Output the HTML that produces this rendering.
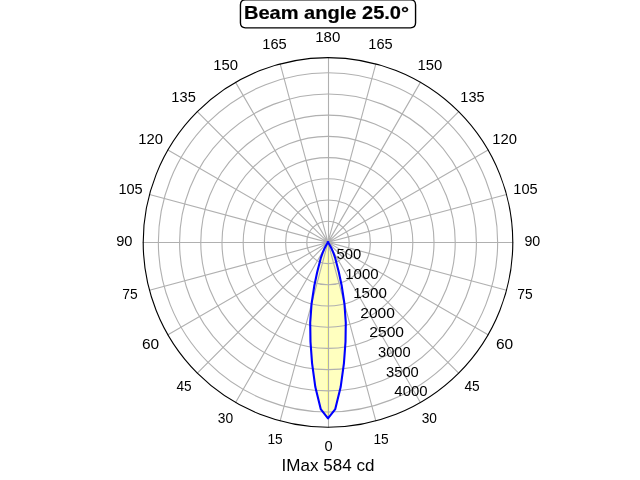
<!DOCTYPE html>
<html><head><meta charset="utf-8"><title>Beam angle 25.0°</title><style>
html,body{margin:0;padding:0;background:#fff;overflow:hidden;width:640px;height:480px}
svg{display:block}
text{font-family:"Liberation Sans",sans-serif;fill:#000}
.t text{stroke:#000;stroke-width:0.0px}
.aa{filter:url(#nf)}
</style></head><body>
<svg width="640" height="480" viewBox="0 0 640 480">
<rect width="640" height="480" fill="#fff"/>
<defs><filter id="nf" x="0" y="0" width="640" height="480" filterUnits="userSpaceOnUse"><feOffset dx="0" dy="0"/></filter></defs>
<defs><clipPath id="beam"><path d="M328.00 242.05L327.98 242.05L327.97 242.05L327.95 242.05L327.94 242.05L327.92 242.06L327.91 242.06L327.89 242.06L327.88 242.07L327.87 242.07L327.85 242.08L327.84 242.09L327.82 242.10L327.81 242.10L327.80 242.11L327.79 242.12L327.77 242.13L327.76 242.14L327.75 242.15L327.74 242.16L327.73 242.17L327.72 242.19L327.71 242.20L327.70 242.21L327.70 242.22L327.69 242.24L327.68 242.25L327.67 242.27L327.67 242.28L327.66 242.29L327.66 242.31L327.66 242.32L327.65 242.34L327.65 242.35L327.65 242.37L327.65 242.38L327.65 242.40L327.65 242.42L327.65 242.43L327.65 242.45L327.65 242.46L327.66 242.48L327.66 242.49L327.66 242.51L327.67 242.52L327.67 242.53L327.68 242.55L327.69 242.56L327.70 242.58L327.70 242.59L327.71 242.60L327.72 242.61L327.73 242.63L327.74 242.64L327.75 242.65L327.76 242.66L327.77 242.67L327.79 242.68L327.19 243.55L325.92 245.67L324.48 248.50L322.72 252.55L320.93 257.55L319.58 262.73L317.16 272.17L314.24 286.04L311.56 303.77L310.21 322.64L310.49 341.72L312.08 363.32L315.34 387.05L320.72 409.09L328.00 418.40L335.28 409.09L340.66 387.05L343.92 363.32L345.51 341.72L345.79 322.64L344.44 303.77L341.76 286.04L338.84 272.17L336.42 262.73L335.07 257.55L333.28 252.55L331.52 248.50L330.08 245.67L328.81 243.55L328.21 242.68L328.23 242.67L328.24 242.66L328.25 242.65L328.26 242.64L328.27 242.63L328.28 242.61L328.29 242.60L328.30 242.59L328.30 242.58L328.31 242.56L328.32 242.55L328.33 242.53L328.33 242.52L328.34 242.51L328.34 242.49L328.34 242.48L328.35 242.46L328.35 242.45L328.35 242.43L328.35 242.42L328.35 242.40L328.35 242.38L328.35 242.37L328.35 242.35L328.35 242.34L328.34 242.32L328.34 242.31L328.34 242.29L328.33 242.28L328.33 242.27L328.32 242.25L328.31 242.24L328.30 242.22L328.30 242.21L328.29 242.20L328.28 242.19L328.27 242.17L328.26 242.16L328.25 242.15L328.24 242.14L328.23 242.13L328.21 242.12L328.20 242.11L328.19 242.10L328.18 242.10L328.16 242.09L328.15 242.08L328.13 242.07L328.12 242.07L328.11 242.06L328.09 242.06L328.08 242.06L328.06 242.05L328.05 242.05L328.03 242.05L328.02 242.05L328.00 242.05Z"/></clipPath></defs>
<path d="M328.00 242.05L327.98 242.05L327.97 242.05L327.95 242.05L327.94 242.05L327.92 242.06L327.91 242.06L327.89 242.06L327.88 242.07L327.87 242.07L327.85 242.08L327.84 242.09L327.82 242.10L327.81 242.10L327.80 242.11L327.79 242.12L327.77 242.13L327.76 242.14L327.75 242.15L327.74 242.16L327.73 242.17L327.72 242.19L327.71 242.20L327.70 242.21L327.70 242.22L327.69 242.24L327.68 242.25L327.67 242.27L327.67 242.28L327.66 242.29L327.66 242.31L327.66 242.32L327.65 242.34L327.65 242.35L327.65 242.37L327.65 242.38L327.65 242.40L327.65 242.42L327.65 242.43L327.65 242.45L327.65 242.46L327.66 242.48L327.66 242.49L327.66 242.51L327.67 242.52L327.67 242.53L327.68 242.55L327.69 242.56L327.70 242.58L327.70 242.59L327.71 242.60L327.72 242.61L327.73 242.63L327.74 242.64L327.75 242.65L327.76 242.66L327.77 242.67L327.79 242.68L327.19 243.55L325.92 245.67L324.48 248.50L322.72 252.55L320.93 257.55L319.58 262.73L317.16 272.17L314.24 286.04L311.56 303.77L310.21 322.64L310.49 341.72L312.08 363.32L315.34 387.05L320.72 409.09L328.00 418.40L335.28 409.09L340.66 387.05L343.92 363.32L345.51 341.72L345.79 322.64L344.44 303.77L341.76 286.04L338.84 272.17L336.42 262.73L335.07 257.55L333.28 252.55L331.52 248.50L330.08 245.67L328.81 243.55L328.21 242.68L328.23 242.67L328.24 242.66L328.25 242.65L328.26 242.64L328.27 242.63L328.28 242.61L328.29 242.60L328.30 242.59L328.30 242.58L328.31 242.56L328.32 242.55L328.33 242.53L328.33 242.52L328.34 242.51L328.34 242.49L328.34 242.48L328.35 242.46L328.35 242.45L328.35 242.43L328.35 242.42L328.35 242.40L328.35 242.38L328.35 242.37L328.35 242.35L328.35 242.34L328.34 242.32L328.34 242.31L328.34 242.29L328.33 242.28L328.33 242.27L328.32 242.25L328.31 242.24L328.30 242.22L328.30 242.21L328.29 242.20L328.28 242.19L328.27 242.17L328.26 242.16L328.25 242.15L328.24 242.14L328.23 242.13L328.21 242.12L328.20 242.11L328.19 242.10L328.18 242.10L328.16 242.09L328.15 242.08L328.13 242.07L328.12 242.07L328.11 242.06L328.09 242.06L328.08 242.06L328.06 242.05L328.05 242.05L328.03 242.05L328.02 242.05L328.00 242.05Z" fill="#ffffbf" stroke="none"/>
<rect x="327" y="240" width="1" height="180" fill="#ffff8c" clip-path="url(#beam)"/>
<path d="M328.50 242.40L328.50 427.20M328.00 242.40L375.83 420.90M328.00 242.40L420.40 402.44M328.00 242.40L458.67 373.07M328.00 242.40L488.04 334.80M328.00 242.40L506.50 290.23M328.00 242.50L512.80 242.50M328.00 242.40L506.50 194.57M328.00 242.40L488.04 150.00M328.00 242.40L458.67 111.73M328.00 242.40L420.40 82.36M328.00 242.40L375.83 63.90M328.50 242.40L328.50 57.60M328.00 242.40L280.17 63.90M328.00 242.40L235.60 82.36M328.00 242.40L197.33 111.73M328.00 242.40L167.96 150.00M328.00 242.40L149.50 194.57M328.00 242.50L143.20 242.50M328.00 242.40L149.50 290.23M328.00 242.40L167.96 334.80M328.00 242.40L197.33 373.07M328.00 242.40L235.60 402.44M328.00 242.40L280.17 420.90" stroke="#b0b0b0" stroke-width="1.111" fill="none" stroke-linecap="square"/>
<circle cx="328.0" cy="242.4" r="21.205" stroke="#b0b0b0" stroke-width="1.111" fill="none"/>
<circle cx="328.0" cy="242.4" r="42.410" stroke="#b0b0b0" stroke-width="1.111" fill="none"/>
<circle cx="328.0" cy="242.4" r="63.614" stroke="#b0b0b0" stroke-width="1.111" fill="none"/>
<circle cx="328.0" cy="242.4" r="84.819" stroke="#b0b0b0" stroke-width="1.111" fill="none"/>
<circle cx="328.0" cy="242.4" r="106.024" stroke="#b0b0b0" stroke-width="1.111" fill="none"/>
<circle cx="328.0" cy="242.4" r="127.229" stroke="#b0b0b0" stroke-width="1.111" fill="none"/>
<circle cx="328.0" cy="242.4" r="148.434" stroke="#b0b0b0" stroke-width="1.111" fill="none"/>
<circle cx="328.0" cy="242.4" r="169.639" stroke="#b0b0b0" stroke-width="1.111" fill="none"/>
<g class="t aa">
<text x="328.49" y="450.64" font-size="14.72" text-anchor="middle" textLength="8.13" lengthAdjust="spacingAndGlyphs">0</text>
<text x="381.11" y="443.68" font-size="14.72" text-anchor="middle" textLength="15.31" lengthAdjust="spacingAndGlyphs">15</text>
<text x="429.32" y="423.28" font-size="14.72" text-anchor="middle" textLength="15.28" lengthAdjust="spacingAndGlyphs">30</text>
<text x="472.07" y="390.82" font-size="14.72" text-anchor="middle" textLength="15.27" lengthAdjust="spacingAndGlyphs">45</text>
<text x="504.56" y="348.52" font-size="14.72" text-anchor="middle" textLength="17.27" lengthAdjust="spacingAndGlyphs">60</text>
<text x="525.05" y="299.26" font-size="14.72" text-anchor="middle" textLength="15.36" lengthAdjust="spacingAndGlyphs">75</text>
<text x="532.35" y="246.40" font-size="14.72" text-anchor="middle" textLength="15.85" lengthAdjust="spacingAndGlyphs">90</text>
<text x="525.52" y="193.54" font-size="14.72" text-anchor="middle" textLength="24.34" lengthAdjust="spacingAndGlyphs">105</text>
<text x="504.73" y="144.28" font-size="14.72" text-anchor="middle" textLength="24.74" lengthAdjust="spacingAndGlyphs">120</text>
<text x="472.49" y="101.98" font-size="14.72" text-anchor="middle" textLength="24.26" lengthAdjust="spacingAndGlyphs">135</text>
<text x="429.80" y="69.52" font-size="14.72" text-anchor="middle" textLength="24.79" lengthAdjust="spacingAndGlyphs">150</text>
<text x="380.49" y="49.12" font-size="14.72" text-anchor="middle" textLength="24.40" lengthAdjust="spacingAndGlyphs">165</text>
<text x="327.72" y="42.16" font-size="14.72" text-anchor="middle" textLength="25.14" lengthAdjust="spacingAndGlyphs">180</text>
<text x="274.55" y="49.12" font-size="14.72" text-anchor="middle" textLength="24.47" lengthAdjust="spacingAndGlyphs">165</text>
<text x="225.74" y="69.52" font-size="14.72" text-anchor="middle" textLength="24.84" lengthAdjust="spacingAndGlyphs">150</text>
<text x="183.57" y="101.98" font-size="14.72" text-anchor="middle" textLength="24.43" lengthAdjust="spacingAndGlyphs">135</text>
<text x="150.73" y="144.28" font-size="14.72" text-anchor="middle" textLength="24.80" lengthAdjust="spacingAndGlyphs">120</text>
<text x="130.58" y="193.54" font-size="14.72" text-anchor="middle" textLength="24.30" lengthAdjust="spacingAndGlyphs">105</text>
<text x="124.37" y="246.40" font-size="14.72" text-anchor="middle" textLength="16.29" lengthAdjust="spacingAndGlyphs">90</text>
<text x="130.02" y="299.26" font-size="14.72" text-anchor="middle" textLength="15.38" lengthAdjust="spacingAndGlyphs">75</text>
<text x="150.52" y="348.52" font-size="14.72" text-anchor="middle" textLength="17.23" lengthAdjust="spacingAndGlyphs">60</text>
<text x="184.09" y="390.82" font-size="14.72" text-anchor="middle" textLength="15.15" lengthAdjust="spacingAndGlyphs">45</text>
<text x="225.38" y="423.28" font-size="14.72" text-anchor="middle" textLength="15.35" lengthAdjust="spacingAndGlyphs">30</text>
<text x="275.13" y="443.68" font-size="14.72" text-anchor="middle" textLength="15.24" lengthAdjust="spacingAndGlyphs">15</text>
<text x="336.46" y="258.99" font-size="14.72" text-anchor="start" textLength="24.71" lengthAdjust="spacingAndGlyphs">500</text>
<text x="345.23" y="278.58" font-size="14.72" text-anchor="start" textLength="33.34" lengthAdjust="spacingAndGlyphs">1000</text>
<text x="353.22" y="298.17" font-size="14.72" text-anchor="start" textLength="33.63" lengthAdjust="spacingAndGlyphs">1500</text>
<text x="360.23" y="317.76" font-size="14.72" text-anchor="start" textLength="34.65" lengthAdjust="spacingAndGlyphs">2000</text>
<text x="369.34" y="337.35" font-size="14.72" text-anchor="start" textLength="34.67" lengthAdjust="spacingAndGlyphs">2500</text>
<text x="377.99" y="356.94" font-size="14.72" text-anchor="start" textLength="32.67" lengthAdjust="spacingAndGlyphs">3000</text>
<text x="386.01" y="376.53" font-size="14.72" text-anchor="start" textLength="32.78" lengthAdjust="spacingAndGlyphs">3500</text>
<text x="394.36" y="396.13" font-size="14.72" text-anchor="start" textLength="33.20" lengthAdjust="spacingAndGlyphs">4000</text>
</g>
<path d="M328.00 242.05L327.98 242.05L327.97 242.05L327.95 242.05L327.94 242.05L327.92 242.06L327.91 242.06L327.89 242.06L327.88 242.07L327.87 242.07L327.85 242.08L327.84 242.09L327.82 242.10L327.81 242.10L327.80 242.11L327.79 242.12L327.77 242.13L327.76 242.14L327.75 242.15L327.74 242.16L327.73 242.17L327.72 242.19L327.71 242.20L327.70 242.21L327.70 242.22L327.69 242.24L327.68 242.25L327.67 242.27L327.67 242.28L327.66 242.29L327.66 242.31L327.66 242.32L327.65 242.34L327.65 242.35L327.65 242.37L327.65 242.38L327.65 242.40L327.65 242.42L327.65 242.43L327.65 242.45L327.65 242.46L327.66 242.48L327.66 242.49L327.66 242.51L327.67 242.52L327.67 242.53L327.68 242.55L327.69 242.56L327.70 242.58L327.70 242.59L327.71 242.60L327.72 242.61L327.73 242.63L327.74 242.64L327.75 242.65L327.76 242.66L327.77 242.67L327.79 242.68L327.19 243.55L325.92 245.67L324.48 248.50L322.72 252.55L320.93 257.55L319.58 262.73L317.16 272.17L314.24 286.04L311.56 303.77L310.21 322.64L310.49 341.72L312.08 363.32L315.34 387.05L320.72 409.09L328.00 418.40L335.28 409.09L340.66 387.05L343.92 363.32L345.51 341.72L345.79 322.64L344.44 303.77L341.76 286.04L338.84 272.17L336.42 262.73L335.07 257.55L333.28 252.55L331.52 248.50L330.08 245.67L328.81 243.55L328.21 242.68L328.23 242.67L328.24 242.66L328.25 242.65L328.26 242.64L328.27 242.63L328.28 242.61L328.29 242.60L328.30 242.59L328.30 242.58L328.31 242.56L328.32 242.55L328.33 242.53L328.33 242.52L328.34 242.51L328.34 242.49L328.34 242.48L328.35 242.46L328.35 242.45L328.35 242.43L328.35 242.42L328.35 242.40L328.35 242.38L328.35 242.37L328.35 242.35L328.35 242.34L328.34 242.32L328.34 242.31L328.34 242.29L328.33 242.28L328.33 242.27L328.32 242.25L328.31 242.24L328.30 242.22L328.30 242.21L328.29 242.20L328.28 242.19L328.27 242.17L328.26 242.16L328.25 242.15L328.24 242.14L328.23 242.13L328.21 242.12L328.20 242.11L328.19 242.10L328.18 242.10L328.16 242.09L328.15 242.08L328.13 242.07L328.12 242.07L328.11 242.06L328.09 242.06L328.08 242.06L328.06 242.05L328.05 242.05L328.03 242.05L328.02 242.05L328.00 242.05" stroke="#0000ff" stroke-width="2.083" fill="none" stroke-linejoin="round" stroke-linecap="butt"/>
<circle cx="328.0" cy="242.4" r="184.8" stroke="#000" stroke-width="1.111" fill="none"/>
<path d="M245.44 27.82L410.56 27.82Q415.56 27.82 415.56 22.82L415.56 4.82Q415.56 -0.18 410.56 -0.18L245.44 -0.18Q240.44 -0.18 240.44 4.82L240.44 22.82Q240.44 27.82 245.44 27.82Z" fill="#fff" stroke="#000" stroke-width="1.389" stroke-linejoin="round"/>
<g class="tb aa">
<text x="326.47" y="18.82" font-size="17.66" font-weight="bold" text-anchor="middle" stroke="#000" stroke-width="0.2" textLength="165.12" lengthAdjust="spacingAndGlyphs">Beam angle 25.0°</text>
<text x="327.97" y="471.20" font-size="16.19" text-anchor="middle" textLength="92.86" lengthAdjust="spacingAndGlyphs">IMax 584 cd</text>
</g>
</svg>
</body></html>
